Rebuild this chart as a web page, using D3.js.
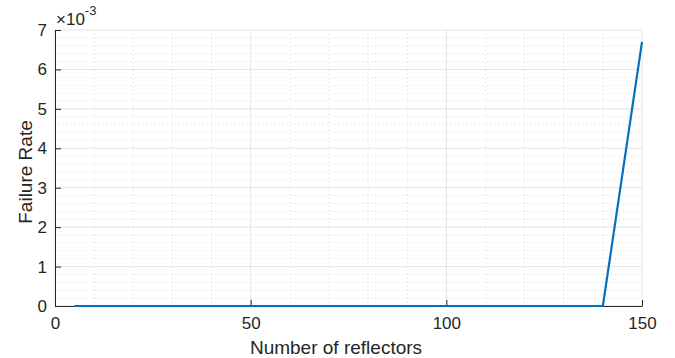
<!DOCTYPE html>
<html><head><meta charset="utf-8">
<script src="https://cdn.jsdelivr.net/npm/d3@7"></script>
<style>body{margin:0;background:#fff}svg{display:block}text{font-family:"Liberation Sans",Arial,Helvetica,sans-serif}</style>
</head><body><svg id="c" width="675" height="358"></svg>
<script>
const xValues = [5, 10, 20, 30, 40, 50, 60, 70, 80, 90, 100, 110, 120, 130, 140, 150];
const failureRate = [0, 0, 0, 0, 0, 0, 0, 0, 0, 0, 0, 0, 0, 0, 0, 0.0067];
const xTicks = [0, 50, 100, 150];
const yTicks = [0, 1, 2, 3, 4, 5, 6, 7];
const xLabel = "Number of reflectors";
const yLabel = "Failure Rate";

const svg = d3.select("#c");
const L = 55, R = 642, T = 30, B = 306;
const x = d3.scaleLinear().domain([0, 150]).range([L, R]);
const y = d3.scaleLinear().domain([0, 0.007]).range([B, T]);
const ink = "#262626";

// minor grid
const g = svg.append("g");
d3.range(0, 151, 10).filter(v => v % 50 !== 0).forEach(v => {
  g.append("line").attr("x1", x(v)).attr("x2", x(v)).attr("y1", T).attr("y2", B)
   .attr("stroke", "#d9d9d9").attr("stroke-width", 1).attr("stroke-dasharray", "1,3");
});
d3.range(0, 36).map(i => i * 0.0002).filter((v, i) => i % 5 !== 0).forEach(v => {
  g.append("line").attr("x1", L).attr("x2", R).attr("y1", y(v)).attr("y2", y(v))
   .attr("stroke", "#d9d9d9").attr("stroke-width", 1).attr("stroke-dasharray", "1,3");
});
// major grid
xTicks.forEach(v => {
  g.append("line").attr("x1", x(v)).attr("x2", x(v)).attr("y1", T).attr("y2", B)
   .attr("stroke", "#e3e3e3").attr("stroke-width", 1);
});
yTicks.forEach(v => {
  g.append("line").attr("x1", L).attr("x2", R).attr("y1", y(v / 1000)).attr("y2", y(v / 1000))
   .attr("stroke", "#e3e3e3").attr("stroke-width", 1);
});

// axes
const xa = svg.append("g").attr("transform", `translate(0,${B})`)
  .call(d3.axisBottom(x).tickValues(xTicks).tickSizeInner(-6).tickSizeOuter(0).tickPadding(11));
const ya = svg.append("g").attr("transform", `translate(${L},0)`)
  .call(d3.axisLeft(y).tickValues(yTicks.map(v => v / 1000)).tickFormat(d => String(Math.round(d * 1000)))
  .tickSizeInner(-6).tickSizeOuter(0).tickPadding(8));
[xa, ya].forEach(a => {
  a.select(".domain").attr("stroke", ink).attr("stroke-width", 1);
  a.selectAll(".tick line").attr("stroke", ink);
  a.selectAll(".tick text").attr("fill", ink).style("font-size", "17px")
   .style("font-family", '"Liberation Sans", Arial, sans-serif');
});

// line
svg.append("path").datum(xValues.map((v, i) => [v, failureRate[i]]))
  .attr("fill", "none").attr("stroke", "#0072BD").attr("stroke-width", 2.2)
  .attr("stroke-linejoin", "round")
  .attr("d", d3.line().x(d => x(d[0])).y(d => y(d[1])));

// labels
svg.append("text").attr("x", 336).attr("y", 354).attr("text-anchor", "middle")
  .attr("fill", ink).style("font-size", "19px").text(xLabel);
svg.append("text").attr("transform", `translate(32,172) rotate(-90)`)
  .attr("text-anchor", "middle").attr("fill", ink).style("font-size", "19px").text(yLabel);
const m = svg.append("text").attr("x", 56).attr("y", 25).attr("fill", ink).style("font-size", "17px");
m.append("tspan").text("×10");
m.append("tspan").attr("dy", -10).style("font-size", "13px").text("-3");
</script></body></html>
